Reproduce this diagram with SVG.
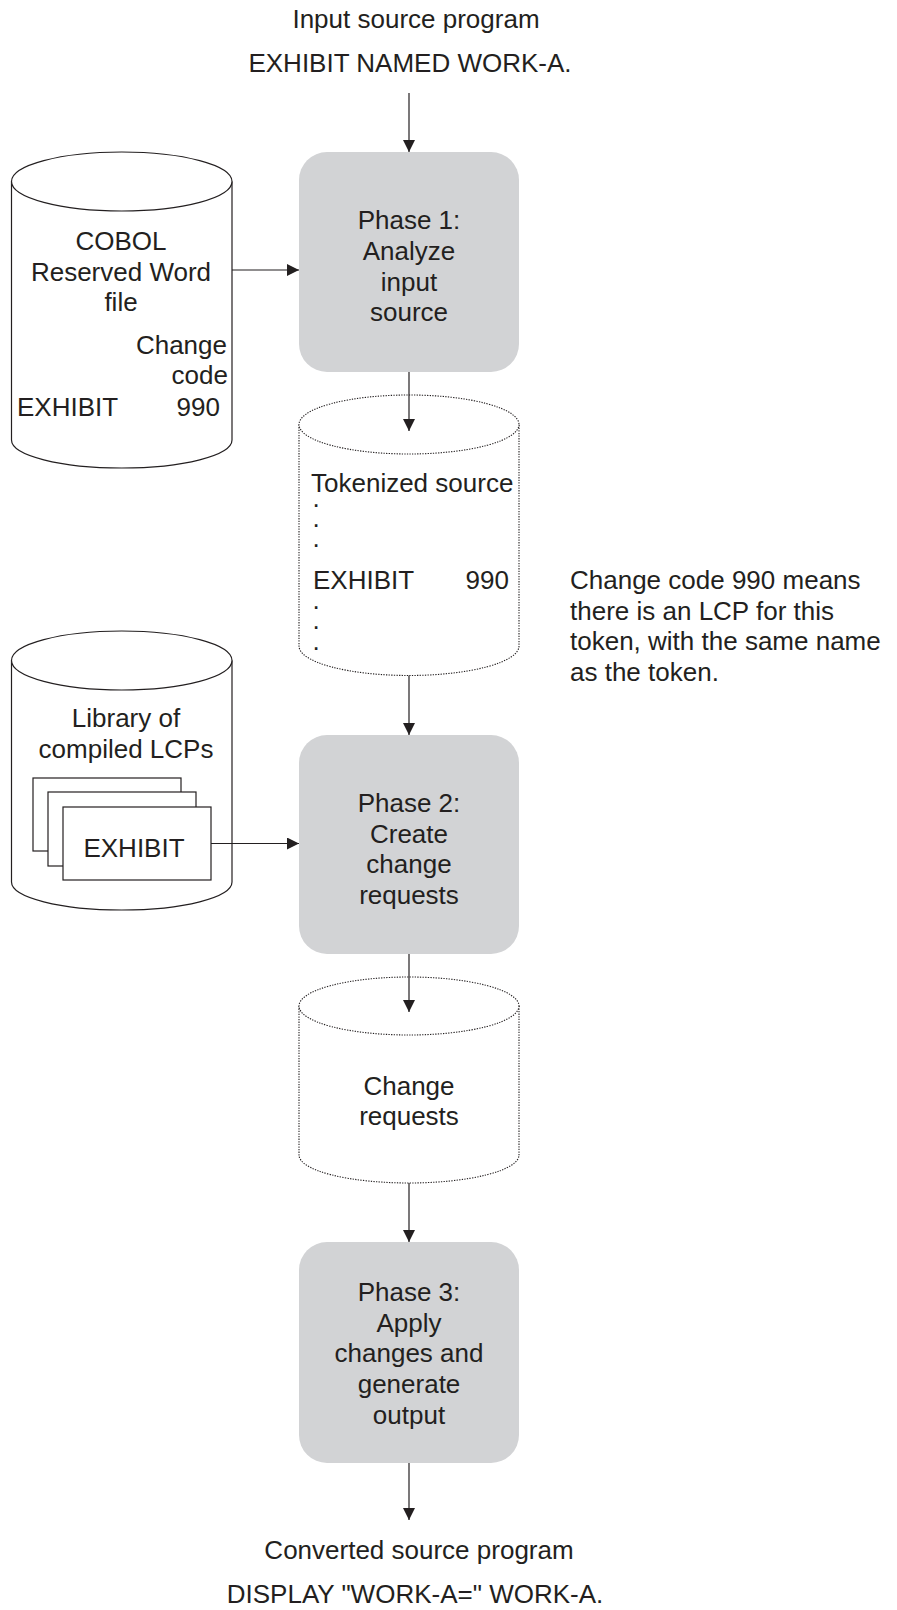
<svg xmlns="http://www.w3.org/2000/svg" width="897" height="1610" viewBox="0 0 897 1610">
<defs>
<style>
text{font-family:"Liberation Sans",Arial,Helvetica,sans-serif;font-size:26px;fill:#231f20}
.c{text-anchor:middle}
.e{text-anchor:end}
.phase{fill:#d2d3d5;stroke:none}
.cyl{fill:#fff;stroke:#231f20;stroke-width:1.2}
.dcyl{fill:#fff;stroke:#231f20;stroke-width:1.1;stroke-dasharray:1.3 1.3}
.page{fill:#fff;stroke:#231f20;stroke-width:1.2}
.conn{stroke:#231f20;stroke-width:1.2;fill:none;marker-end:url(#ah)}
</style>
<marker id="ah" viewBox="0 0 12 12" refX="12" refY="6" markerWidth="12" markerHeight="12" orient="auto" markerUnits="userSpaceOnUse"><path d="M0,0 L12,6 L0,12 Z" fill="#231f20"/></marker>
</defs>
<rect width="897" height="1610" fill="#fff"/>

<g id="input-label">
<text class="c" x="416" y="28">Input source program</text>
<text class="c" x="410" y="72">EXHIBIT NAMED WORK-A.</text>
</g>

<g id="cobol-file">
<path class="cyl" d="M11.5 181.5 V440 A110.25 28 0 0 0 232 440 V181.5"/>
<ellipse class="cyl" cx="121.75" cy="181.5" rx="110.25" ry="29.5"/>
<text class="c" x="121" y="250">COBOL</text>
<text class="c" x="121" y="281">Reserved Word</text>
<text class="c" x="121" y="311">file</text>
<text class="e" x="227" y="354">Change</text>
<text class="e" x="228" y="384">code</text>
<text x="17" y="416">EXHIBIT</text>
<text class="e" x="220" y="416">990</text>
</g>

<g id="phase1">
<rect class="phase" x="299" y="152" width="220" height="220" rx="28"/>
<text class="c" x="409" y="229">Phase 1:</text>
<text class="c" x="409" y="260">Analyze</text>
<text class="c" x="409" y="291">input</text>
<text class="c" x="409" y="321">source</text>
</g>

<g id="tokenized-source">
<path class="dcyl" d="M299 424.5 V646 A110 29.5 0 0 0 519 646 V424.5"/>
<ellipse class="dcyl" cx="409" cy="424.5" rx="110" ry="29.5"/>
<text x="311" y="492">Tokenized source<tspan x="312.5" y="507">.</tspan><tspan x="312.5" y="527">.</tspan><tspan x="312.5" y="547">.</tspan><tspan x="313" y="589">EXHIBIT</tspan><tspan x="312.5" y="609">.</tspan><tspan x="312.5" y="629">.</tspan><tspan x="312.5" y="650">.</tspan></text>
<text class="e" x="509" y="589">990</text>
</g>

<g id="note">
<text x="570" y="589">Change code 990 means</text>
<text x="570" y="620">there is an LCP for this</text>
<text x="570" y="650">token, with the same name</text>
<text x="570" y="681">as the token.</text>
</g>

<g id="lcp-library">
<path class="cyl" d="M11.5 660.5 V882 A110.25 28 0 0 0 232 882 V660.5"/>
<ellipse class="cyl" cx="121.75" cy="660.5" rx="110.25" ry="29.5"/>
<text class="c" x="126" y="727">Library of</text>
<text class="c" x="126" y="758">compiled LCPs</text>
<rect class="page" x="33" y="778" width="148" height="73"/>
<rect class="page" x="48" y="792" width="148" height="74"/>
<rect class="page" x="63" y="807" width="148" height="73"/>
<text class="c" x="134" y="857">EXHIBIT</text>
</g>

<g id="phase2">
<rect class="phase" x="299" y="735" width="220" height="219" rx="28"/>
<text class="c" x="409" y="812">Phase 2:</text>
<text class="c" x="409" y="843">Create</text>
<text class="c" x="409" y="873">change</text>
<text class="c" x="409" y="904">requests</text>
</g>

<g id="change-requests">
<path class="dcyl" d="M299 1006 V1155 A110 28 0 0 0 519 1155 V1006"/>
<ellipse class="dcyl" cx="409" cy="1006" rx="110" ry="29"/>
<text class="c" x="409" y="1095">Change</text>
<text class="c" x="409" y="1125">requests</text>
</g>

<g id="phase3">
<rect class="phase" x="299" y="1242" width="220" height="221" rx="28"/>
<text class="c" x="409" y="1301">Phase 3:</text>
<text class="c" x="409" y="1332">Apply</text>
<text class="c" x="409" y="1362">changes and</text>
<text class="c" x="409" y="1393">generate</text>
<text class="c" x="409" y="1424">output</text>
</g>

<g id="output-label">
<text class="c" x="419" y="1559">Converted source program</text>
<text class="c" x="415" y="1603">DISPLAY "WORK-A=" WORK-A.</text>
</g>

<g id="connectors">
<path class="conn" d="M409 93 V152"/>
<path class="conn" d="M232 270 H299"/>
<path class="conn" d="M409 372 V431"/>
<path class="conn" d="M409 675.5 V735"/>
<path class="conn" d="M211 843.5 H299"/>
<path class="conn" d="M409 954 V1012"/>
<path class="conn" d="M409 1183 V1242"/>
<path class="conn" d="M409 1463 V1520"/>
</g>
</svg>
